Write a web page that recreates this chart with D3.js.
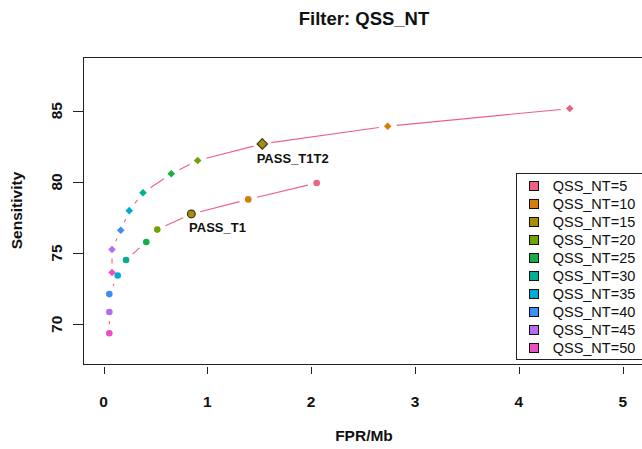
<!DOCTYPE html>
<html>
<head>
<meta charset="utf-8">
<script src="https://cdn.jsdelivr.net/npm/d3@7"></script>
<style>
  html, body { margin: 0; padding: 0; background: #fff; }
  svg { display: block; }
  text { font-family: "Liberation Sans", Arial, Helvetica, sans-serif; fill: #111; }
</style>
</head>
<body>
<svg id="chart" width="642" height="449"></svg>
<script>
// QSS_NT thresholds and their colours
const qssNT = [5, 10, 15, 20, 25, 30, 35, 40, 45, 50];
const ntColors = ["#ED6185", "#D97C0C", "#A88F00", "#6EA300", "#14AD46",
                  "#00AE94", "#00AAD6", "#3D8EF0", "#B56CF0", "#EA4FC3"];

// PASS_T1T2 filter: FPR per Mb and sensitivity (%)
const t1t2Fpr  = [4.49, 2.737, 1.529, 0.907, 0.653, 0.380, 0.248, 0.166, 0.082, 0.082];
const t1t2Sens = [85.15, 83.91, 82.67, 81.50, 80.57, 79.24, 77.98, 76.60, 75.25, 73.64];

// PASS_T1 filter
const t1Fpr  = [2.053, 1.394, 0.846, 0.518, 0.412, 0.217, 0.137, 0.056, 0.056, 0.056];
const t1Sens = [79.92, 78.77, 77.75, 76.65, 75.78, 74.52, 73.43, 72.12, 70.86, 69.37];

const xTicks = [0, 1, 2, 3, 4, 5];
const yTicks = [70, 75, 80, 85];
const highlightNT = 15;

const svg = d3.select("#chart");
const box = { left: 83, right: 645, top: 57, bottom: 364 };

const x = d3.scaleLinear().domain([0, 5]).range([103.5, 622.7]);
const y = d3.scaleLinear().domain([70, 85]).range([324.3, 110.7]);

// plot frame
svg.append("rect")
  .attr("x", box.left + 0.5).attr("y", box.top + 0.5)
  .attr("width", box.right - box.left).attr("height", box.bottom - box.top)
  .attr("fill", "none").attr("stroke", "#222").attr("stroke-width", 1);

// x axis ticks and labels
const xg = svg.append("g");
xg.selectAll("line").data(xTicks).join("line")
  .attr("x1", d => Math.round(x(d)) + 0.5).attr("x2", d => Math.round(x(d)) + 0.5)
  .attr("y1", 367).attr("y2", 374)
  .attr("stroke", "#222");
xg.selectAll("text").data(xTicks).join("text")
  .attr("x", d => x(d)).attr("y", 407)
  .attr("text-anchor", "middle")
  .style("font-size", "15.5px").style("font-weight", "bold")
  .text(d => d);

// y axis ticks and labels
const yg = svg.append("g");
yg.selectAll("line").data(yTicks).join("line")
  .attr("x1", 73).attr("x2", box.left)
  .attr("y1", d => Math.round(y(d)) + 0.5).attr("y2", d => Math.round(y(d)) + 0.5)
  .attr("stroke", "#222");
yg.selectAll("text").data(yTicks).join("text")
  .attr("transform", d => `translate(61.5,${y(d)}) rotate(-90)`)
  .attr("text-anchor", "middle")
  .style("font-size", "15.5px").style("font-weight", "bold")
  .text(d => d);

// titles
svg.append("text").attr("x", 364).attr("y", 25)
  .attr("text-anchor", "middle")
  .style("font-size", "18.5px").style("font-weight", "bold")
  .text("Filter: QSS_NT");
svg.append("text").attr("x", 364).attr("y", 441)
  .attr("text-anchor", "middle")
  .style("font-size", "15.5px").style("font-weight", "bold")
  .text("FPR/Mb");
svg.append("text")
  .attr("transform", `translate(22,${(box.top + box.bottom) / 2}) rotate(-90)`)
  .attr("text-anchor", "middle")
  .style("font-size", "15.5px").style("font-weight", "bold")
  .text("Sensitivity");

// connecting lines with gaps around each point
const gap = 9;
function gappedSegments(fpr, sens) {
  const segs = [];
  for (let i = 0; i < fpr.length - 1; i++) {
    const x1 = x(fpr[i]), y1 = y(sens[i]), x2 = x(fpr[i + 1]), y2 = y(sens[i + 1]);
    const len = Math.hypot(x2 - x1, y2 - y1);
    if (len <= 2 * gap) continue;
    const ux = (x2 - x1) / len, uy = (y2 - y1) / len;
    segs.push({ x1: x1 + ux * gap, y1: y1 + uy * gap, x2: x2 - ux * gap, y2: y2 - uy * gap });
  }
  return segs;
}
[[t1t2Fpr, t1t2Sens], [t1Fpr, t1Sens]].forEach(([f, s]) => {
  svg.append("g").selectAll("line").data(gappedSegments(f, s)).join("line")
    .attr("x1", d => d.x1).attr("y1", d => d.y1)
    .attr("x2", d => d.x2).attr("y2", d => d.y2)
    .attr("stroke", ntColors[0]).attr("stroke-width", 1.1);
});

// PASS_T1T2 points: diamonds
const t1t2Pts = qssNT.map((nt, i) => ({ nt, fx: t1t2Fpr[i], sy: t1t2Sens[i], c: ntColors[i] }));
svg.append("g").selectAll("path").data(t1t2Pts).join("path")
  .attr("transform", d => `translate(${x(d.fx)},${y(d.sy)})`)
  .attr("d", d => {
    const r = d.nt === highlightNT ? 5.2 : 3.8;
    return `M0,${-r}L${r},0L0,${r}L${-r},0Z`;
  })
  .attr("fill", d => d.c)
  .attr("stroke", d => d.nt === highlightNT ? "#333" : "none")
  .attr("stroke-width", 1.2);

// PASS_T1 points: circles
const t1Pts = qssNT.map((nt, i) => ({ nt, fx: t1Fpr[i], sy: t1Sens[i], c: ntColors[i] }));
svg.append("g").selectAll("circle").data(t1Pts).join("circle")
  .attr("cx", d => x(d.fx)).attr("cy", d => y(d.sy))
  .attr("r", d => d.nt === highlightNT ? 3.9 : 3.3)
  .attr("fill", d => d.c)
  .attr("stroke", d => d.nt === highlightNT ? "#333" : "none")
  .attr("stroke-width", 1.2);

// filter labels under the highlighted points
const hi = qssNT.indexOf(highlightNT);
svg.append("text").attr("x", x(t1t2Fpr[hi]) - 5.6).attr("y", y(t1t2Sens[hi]) + 19.4)
  .style("font-size", "13px").style("font-weight", "bold").text("PASS_T1T2");
svg.append("text").attr("x", x(t1Fpr[hi]) - 2.3).attr("y", y(t1Sens[hi]) + 18)
  .style("font-size", "13px").style("font-weight", "bold").text("PASS_T1");

// legend
const lg = svg.append("g");
lg.append("rect").attr("x", 516.5).attr("y", 173.5).attr("width", 200).attr("height", 186)
  .attr("fill", "#fff").attr("stroke", "#222");
const rows = lg.selectAll("g.row").data(qssNT).join("g")
  .attr("class", "row")
  .attr("transform", (d, i) => `translate(0,${186 + i * 18})`);
rows.append("rect").attr("x", 529.5).attr("y", -4.5).attr("width", 9).attr("height", 9)
  .attr("fill", (d, i) => ntColors[i]).attr("stroke", "#111").attr("stroke-width", 1);
rows.append("text").attr("x", 552.7).attr("y", 5.3)
  .style("font-size", "14.5px")
  .text(d => `QSS_NT=${d}`);
</script>
</body>
</html>
